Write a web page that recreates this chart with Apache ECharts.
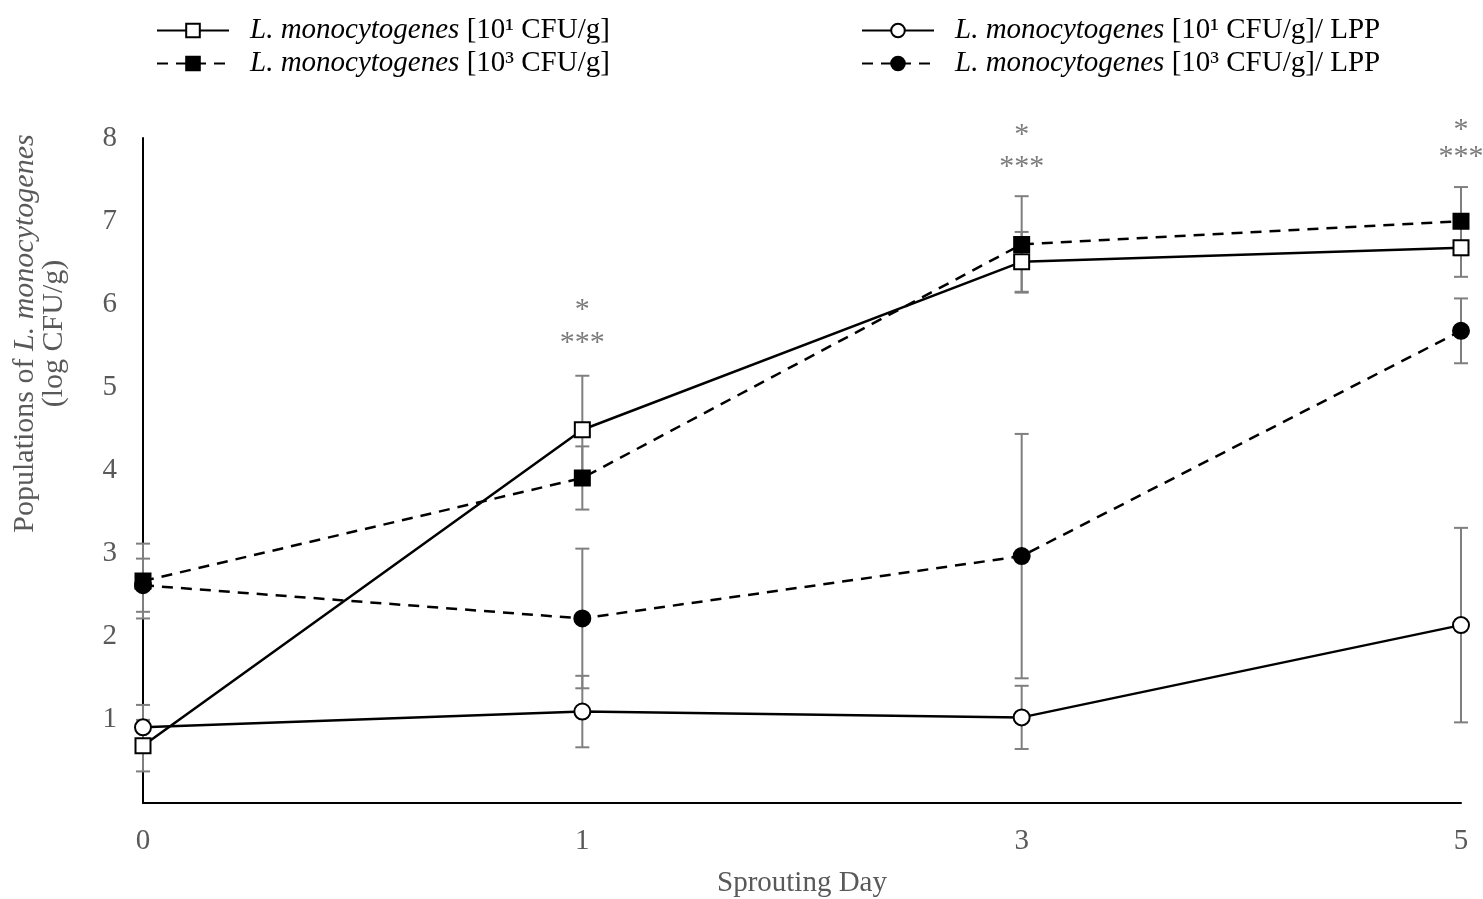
<!DOCTYPE html>
<html>
<head>
<meta charset="utf-8">
<script src="https://cdn.jsdelivr.net/npm/echarts@6/dist/echarts.min.js"></script>
<style>
  html, body { margin: 0; padding: 0; background: #fff; }
  #chart { width: 1483px; height: 899px; }
</style>
</head>
<body>
<div id="chart"></div>
<script>
// sprouting days (category axis)
var days = ['0', '1', '3', '5'];

// means (log CFU/g)
var lm1 = [0.69, 4.49, 6.51, 6.68];        // 10^1, open square
var lm3 = [2.67, 3.91, 6.72, 7.00];        // 10^3, filled square
var lm1Lpp = [0.91, 1.10, 1.03, 2.14];     // 10^1 / LPP, open circle
var lm3Lpp = [2.62, 2.22, 2.97, 5.68];     // 10^3 / LPP, filled circle

// standard deviations
var lm1Err = [0.31, 0.65, 0.36, 0.35];
var lm3Err = [0.45, 0.38, 0.58, 0.41];
var lm1LppErr = [0.27, 0.43, 0.38, 1.17];
var lm3LppErr = [0.32, 0.84, 1.47, 0.39];

// significance marks: [day index, y position, text]
var marks = [
  [1, 5.93, '*'], [1, 5.53, '***'],
  [2, 8.04, '*'], [2, 7.65, '***'],
  [3, 8.09, '*'], [3, 7.77, '***']
];

var yTicks = [0, 1, 2, 3, 4, 5, 6, 7, 8];

var serif = '"Liberation Serif", "DejaVu Serif", serif';
var gray = '#595959';
var fs = 29;

var names = [
  '{i|L. monocytogenes} [10¹ CFU/g]',
  '{i|L. monocytogenes} [10³ CFU/g]',
  '{i|L. monocytogenes} [10¹ CFU/g]/ LPP',
  '{i|L. monocytogenes} [10³ CFU/g]/ LPP'
];

function errData(mean, err) {
  return mean.map(function (m, i) { return [i, m - err[i], m + err[i]]; });
}

function errSeries(mean, err) {
  return {
    type: 'custom',
    z: 1,
    silent: true,
    clip: false,
    data: errData(mean, err),
    renderItem: function (params, api) {
      var lo = api.coord([api.value(0), api.value(1)]);
      var hi = api.coord([api.value(0), api.value(2)]);
      var w = 7;
      var st = { stroke: '#7f7f7f', lineWidth: 2 };
      return {
        type: 'group',
        children: [
          { type: 'line', shape: { x1: lo[0], y1: lo[1], x2: hi[0], y2: hi[1] }, style: st },
          { type: 'line', shape: { x1: lo[0] - w, y1: lo[1], x2: lo[0] + w, y2: lo[1] }, style: st },
          { type: 'line', shape: { x1: hi[0] - w, y1: hi[1], x2: hi[0] + w, y2: hi[1] }, style: st }
        ]
      };
    }
  };
}

function lineSeries(name, data, symbol, filled, dashed) {
  return {
    name: name,
    type: 'line',
    z: 3,
    clip: false,
    data: data,
    symbol: symbol,
    symbolSize: symbol === 'rect' ? 15 : 16,
    showAllSymbol: true,
    lineStyle: { color: '#000', width: 2.5, type: dashed ? [11, 8] : 'solid' },
    itemStyle: { color: filled ? '#000' : '#fff', borderColor: '#000', borderWidth: 2 },
    emphasis: { disabled: true }
  };
}

var legendText = {
  color: '#000',
  fontFamily: serif,
  fontSize: fs,
  padding: [0, 0, 0, 16],
  rich: {
    i: { fontStyle: 'italic', fontFamily: serif, fontSize: fs, color: '#000' }
  }
};

var dom = echarts.init(document.getElementById('chart'));

dom.setOption({
  animation: false,
  backgroundColor: '#fff',
  grid: { left: 143, right: 22, top: 138, bottom: 96, outerBoundsMode: 'none', containLabel: false },
  legend: [
    {
      left: 151, top: 11, orient: 'vertical', itemWidth: 72, itemHeight: 17, itemGap: 4,
      data: [names[0], names[1]], textStyle: legendText, selectedMode: false
    },
    {
      left: 856, top: 11, orient: 'vertical', itemWidth: 72, itemHeight: 17, itemGap: 4,
      data: [names[2], names[3]], textStyle: legendText, selectedMode: false
    }
  ],
  xAxis: {
    type: 'category',
    data: days,
    boundaryGap: false,
    name: 'Sprouting Day',
    nameLocation: 'middle',
    nameGap: 66,
    nameTextStyle: { color: gray, fontFamily: serif, fontSize: fs },
    axisLine: { lineStyle: { color: '#000', width: 2 } },
    axisTick: { show: false },
    axisLabel: { color: gray, fontFamily: serif, fontSize: fs, margin: 24 }
  },
  yAxis: {
    type: 'value',
    min: yTicks[0],
    max: yTicks[yTicks.length - 1],
    interval: 1,
    name: '{t|Populations of }{i|L. monocytogenes}\n{t|(log CFU/g)}',
    nameLocation: 'middle',
    nameGap: 74,
    nameRotate: 90,
    nameTextStyle: {
      align: 'center',
      padding: [0, 0, 0, 274],
      rich: {
        t: { color: gray, fontFamily: serif, fontSize: 30, lineHeight: 29 },
        i: { color: gray, fontFamily: serif, fontSize: 30, lineHeight: 29, fontStyle: 'italic' }
      }
    },
    axisLine: { show: true, lineStyle: { color: '#000', width: 2 } },
    axisTick: { show: false },
    splitLine: { show: false },
    axisLabel: {
      color: gray, fontFamily: serif, fontSize: fs, margin: 26,
      formatter: function (v) { return v === 0 ? '' : String(v); }
    }
  },
  series: [
    errSeries(lm1, lm1Err),
    errSeries(lm3, lm3Err),
    errSeries(lm1Lpp, lm1LppErr),
    errSeries(lm3Lpp, lm3LppErr),
    lineSeries(names[0], lm1, 'rect', false, false),
    lineSeries(names[1], lm3, 'rect', true, true),
    lineSeries(names[2], lm1Lpp, 'circle', false, false),
    lineSeries(names[3], lm3Lpp, 'circle', true, true),
    {
      type: 'scatter',
      silent: true,
      clip: false,
      symbolSize: 0,
      data: marks.map(function (m) { return { value: [m[0], m[1]], text: m[2] }; }),
      label: {
        show: true,
        position: 'inside',
        color: gray,
        fontFamily: serif,
        fontSize: 30,
        formatter: function (p) { return p.data.text; }
      }
    }
  ]
});
</script>
</body>
</html>
